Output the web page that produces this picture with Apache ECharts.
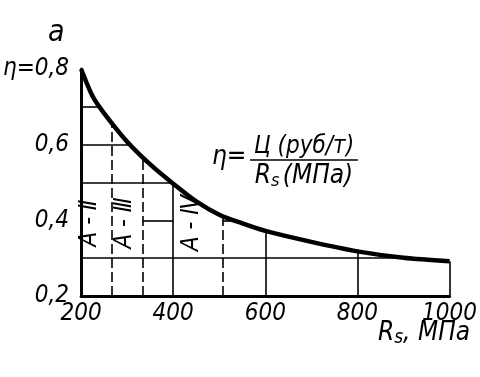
<!DOCTYPE html>
<html>
<head>
<meta charset="utf-8">
<script src="https://cdn.jsdelivr.net/npm/echarts@6/dist/echarts.min.js"></script>
<style>
  html, body { margin: 0; padding: 0; background: #fff; }
  #chart { width: 480px; height: 377px; }
</style>
</head>
<body>
<div id="chart"></div>
<script>
// curve: eta = price / Rs
const rsValues = [200, 225, 250, 300, 350, 400, 450, 500, 550, 600, 700, 800, 900, 1000];
const etaValues = [0.80, 0.728, 0.683, 0.608, 0.548, 0.497, 0.45, 0.415, 0.392, 0.372, 0.343, 0.318, 0.301, 0.292];
// vertical lines, from the axis up to the curve
const solidX = [400, 600, 800, 1000];
const dashedX = [266, 334, 508];
// horizontal lines, from the axis out to the curve
const fullY = [0.3, 0.5, 0.6, 0.7];
// the 0.4 line is broken by the steel labels (null = up to the curve)
const partY = 0.4;
const partRanges = [[334, 400], [508, null]];
const steelLabels = ["А - Ⅱ", "А - Ⅲ", "А - Ⅳ"];

const FONT = "'Liberation Sans Narrow', 'DejaVu Sans Condensed', 'DejaVu Sans', sans-serif";

function etaAt(x) {
  for (let i = 1; i < rsValues.length; i++) {
    if (x <= rsValues[i]) {
      const t = (x - rsValues[i - 1]) / (rsValues[i] - rsValues[i - 1]);
      return etaValues[i - 1] + t * (etaValues[i] - etaValues[i - 1]);
    }
  }
  return etaValues[etaValues.length - 1];
}
function rsAt(y) {
  for (let i = 1; i < etaValues.length; i++) {
    if (y >= etaValues[i]) {
      const t = (etaValues[i - 1] - y) / (etaValues[i - 1] - etaValues[i]);
      return rsValues[i - 1] + t * (rsValues[i] - rsValues[i - 1]);
    }
  }
  return rsValues[rsValues.length - 1];
}

const thin = { color: "#000", width: 1.6, type: "solid" };
const dash = { color: "#000", width: 1.6, type: [10, 4] };
let lines = [];
solidX.forEach((x) => {
  lines.push([{ coord: [x, 0.2], lineStyle: thin }, { coord: [x, etaAt(x)] }]);
});
dashedX.forEach((x) => {
  lines.push([{ coord: [x, 0.2], lineStyle: dash }, { coord: [x, etaAt(x)] }]);
});
fullY.forEach((y) => {
  lines.push([{ coord: [200, y], lineStyle: thin }, { coord: [rsAt(y), y] }]);
});
partRanges.forEach((r) => {
  let end = r[1] === null ? rsAt(partY) : r[1];
  lines.push([{ coord: [r[0], partY], lineStyle: thin }, { coord: [end, partY] }]);
});

const myChart = echarts.init(document.getElementById("chart"));
const options = {
  animation: false,
  backgroundColor: "#fff",
  grid: { left: 79, right: 24, top: 69, bottom: 81 },
  xAxis: {
    type: "value",
    min: 200,
    max: 1000,
    interval: 200,
    axisLine: { onZero: false, lineStyle: { color: "#000", width: 3 } },
    axisTick: { show: false },
    splitLine: { show: false },
    axisLabel: {
      color: "#000",
      fontSize: 24,
      fontStyle: "italic",
      fontFamily: FONT,
      margin: 6,
      formatter: (v) => String(v)
    }
  },
  yAxis: {
    type: "value",
    min: 0.2,
    max: 0.8,
    interval: 0.2,
    axisLine: { onZero: false, lineStyle: { color: "#000", width: 3 } },
    axisTick: { show: false },
    splitLine: { show: false },
    axisLabel: {
      color: "#000",
      fontSize: 24,
      fontStyle: "italic",
      fontFamily: FONT,
      margin: 12,
      formatter: function (v) {
        const s = v.toFixed(1).replace(".", ",");
        return Math.abs(v - 0.8) < 1e-6 ? "η=" + s : s;
      }
    }
  },
  series: [
    {
      type: "line",
      data: rsValues.map((x, i) => [x, etaValues[i]]),
      smooth: 0.3,
      symbol: "none",
      z: 5,
      lineStyle: { color: "#000", width: 4.5 },
      markLine: {
        silent: true,
        symbol: ["none", "none"],
        label: { show: false },
        data: lines
      }
    }
  ],
  graphic: [
    {
      type: "text",
      left: 48,
      top: 18,
      style: { text: "а", font: "italic 30px " + FONT, fill: "#000" }
    },
    {
      type: "text",
      x: 212,
      y: 157,
      style: { text: "η=", font: "italic 26px " + FONT, fill: "#000", verticalAlign: "middle" }
    },
    {
      type: "text",
      x: 304,
      y: 147,
      style: { text: "Ц (руб/т)", font: "italic 24px " + FONT, fill: "#000", align: "center", verticalAlign: "middle" }
    },
    {
      type: "line",
      shape: { x1: 250, y1: 160, x2: 358, y2: 160 },
      style: { stroke: "#000", lineWidth: 1.5 }
    },
    {
      type: "text",
      x: 304,
      y: 176,
      style: {
        text: "{r|R}{s|s} {r|(МПа)}",
        align: "center",
        verticalAlign: "middle",
        rich: {
          r: { font: "italic 26px " + FONT, fill: "#000" },
          s: { font: "italic 18px " + FONT, fill: "#000", padding: [10, 0, 0, 0] }
        }
      }
    },
    {
      type: "text",
      x: 424,
      y: 333,
      style: {
        text: "{r|R}{s|s}{r|, МПа}",
        align: "center",
        verticalAlign: "middle",
        rich: {
          r: { font: "italic 26px " + FONT, fill: "#000" },
          s: { font: "italic 19px " + FONT, fill: "#000", padding: [10, 0, 0, 0] }
        }
      }
    },
    ...steelLabels.map((t, i) => ({
      type: "text",
      x: [90, 125, 192][i],
      y: 223,
      rotation: Math.PI / 2,
      style: { text: t, font: "italic 24px " + FONT, fill: "#000", align: "center", verticalAlign: "middle" }
    }))
  ]
};
if (options && typeof options === "object") myChart.setOption(options);
</script>
</body>
</html>
